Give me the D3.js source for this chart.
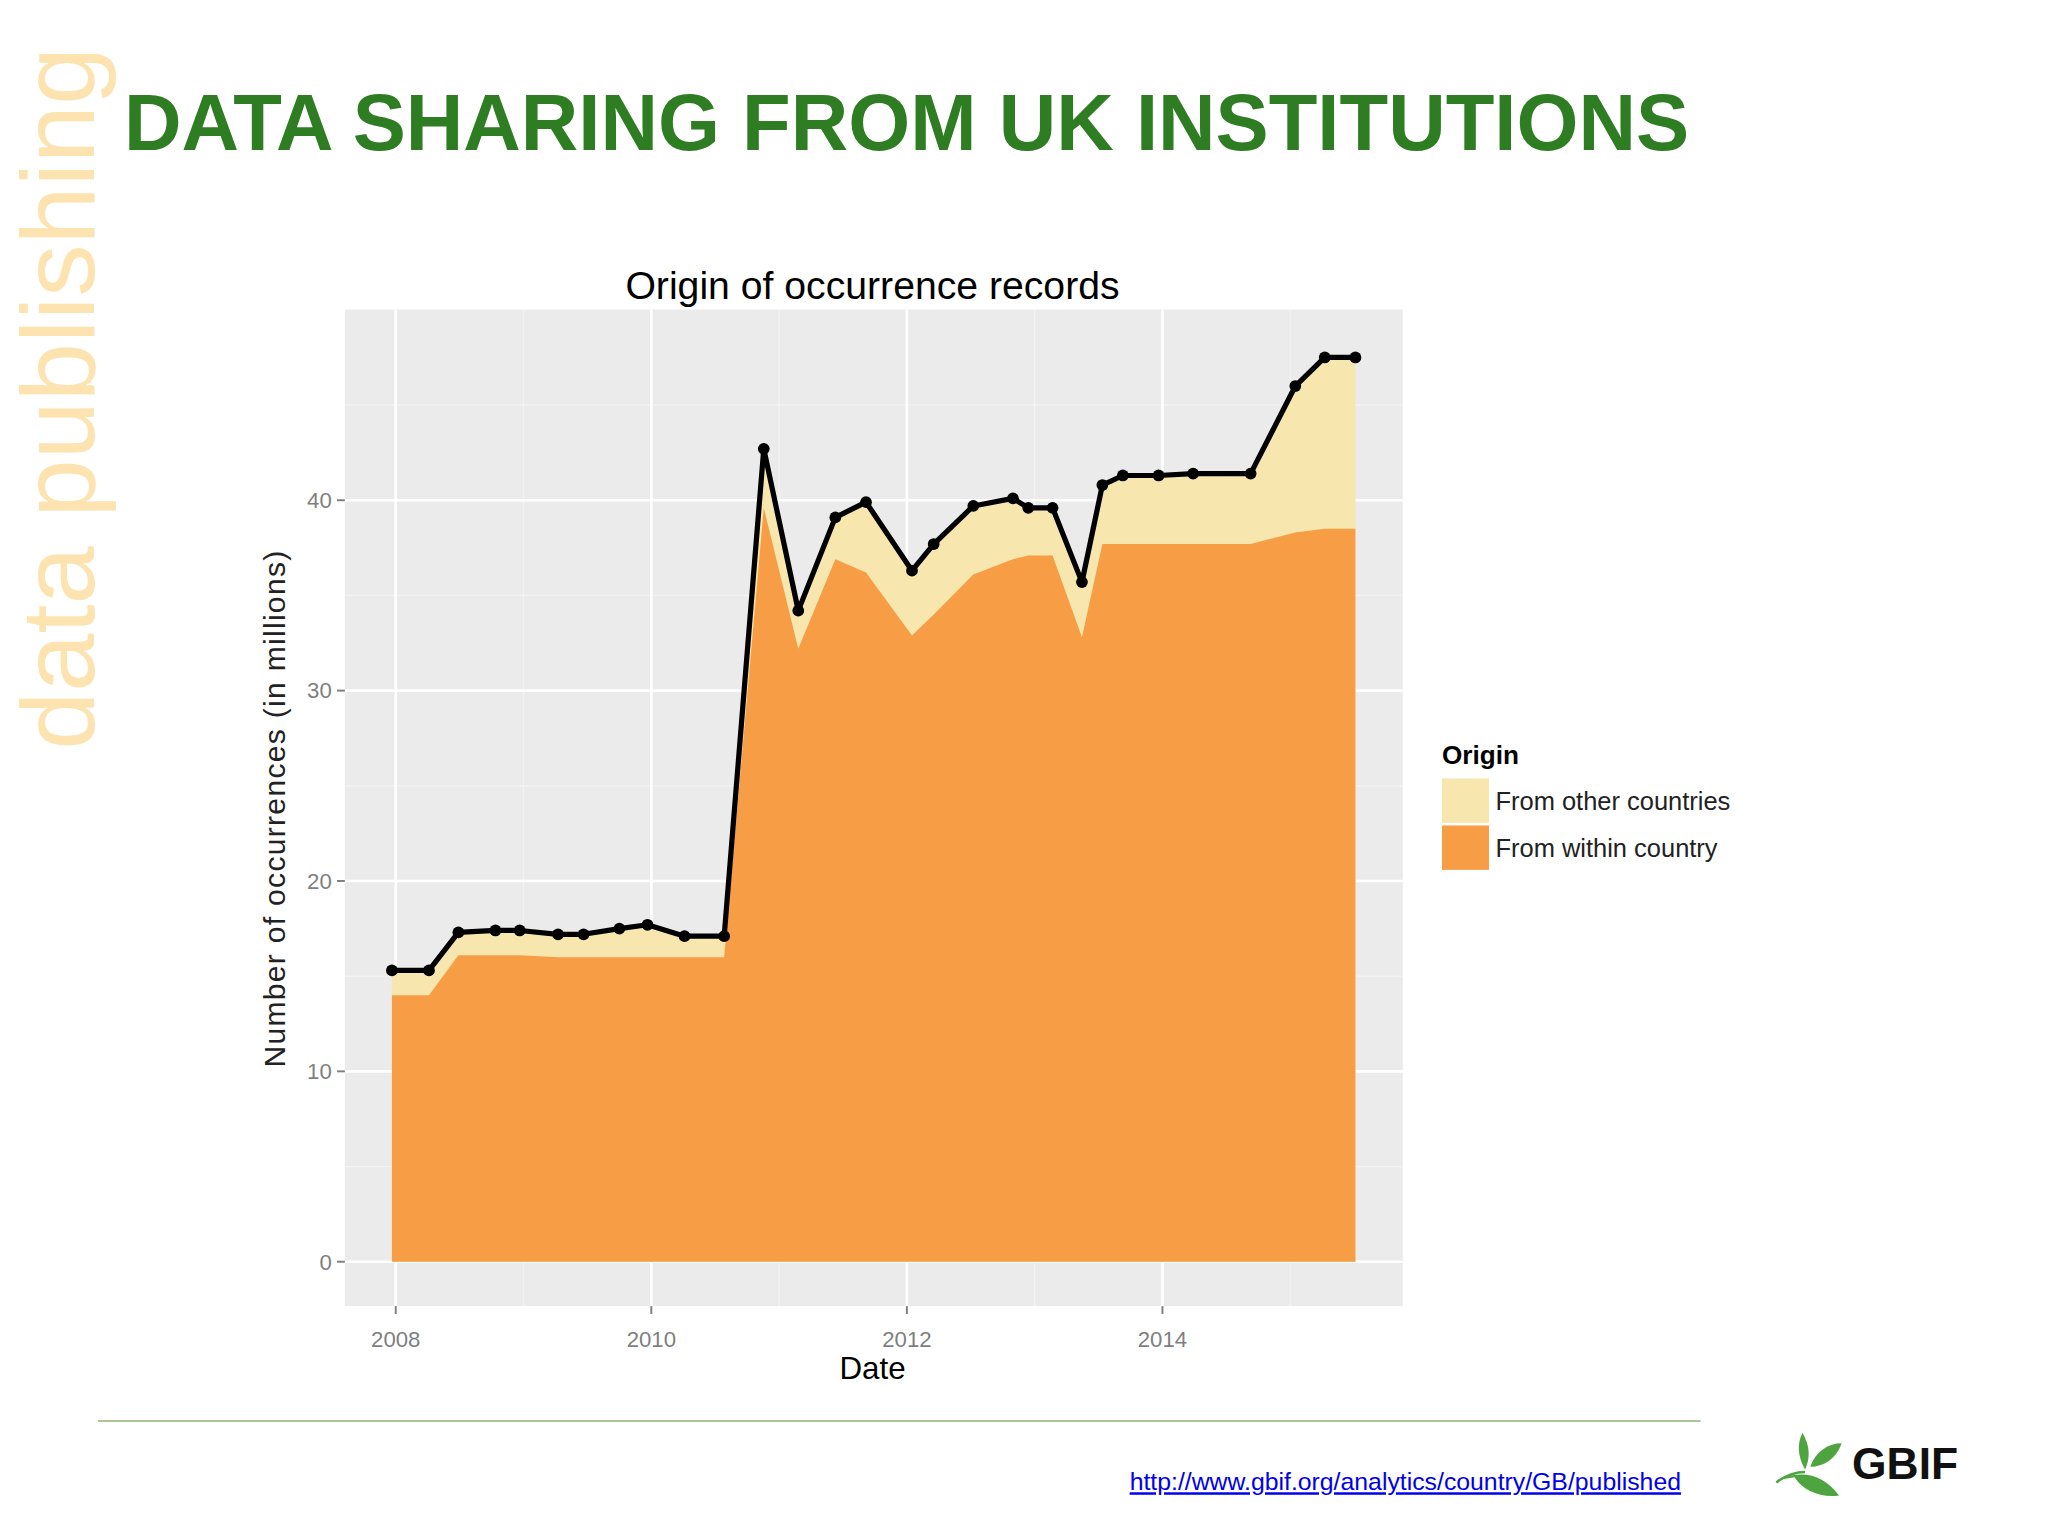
<!DOCTYPE html>
<html>
<head>
<meta charset="utf-8">
<style>
  body{margin:0;background:#fff;}
  text{font-family:"Liberation Sans",Arial,sans-serif;}
</style>
</head>
<body>
<svg width="2048" height="1536"></svg>
<script src="https://cdn.jsdelivr.net/npm/d3@7"></script>
<script>
// data (decimal years, millions of records)
var dates  = [2007.97,2008.26,2008.49,2008.78,2008.97,2009.27,2009.47,2009.75,2009.97,2010.26,2010.57,
              2010.88,2011.15,2011.44,2011.68,2012.04,2012.21,2012.52,2012.83,2012.95,2013.14,2013.37,
              2013.53,2013.69,2013.97,2014.24,2014.69,2015.04,2015.27,2015.51];
var total  = [15.3,15.3,17.3,17.4,17.4,17.2,17.2,17.5,17.7,17.1,17.1,
              42.7,34.2,39.1,39.9,36.3,37.7,39.7,40.1,39.6,39.6,35.7,
              40.8,41.3,41.3,41.4,41.4,46.0,47.5,47.5];
var within = [14.0,14.0,16.1,16.1,16.1,16.0,16.0,16.0,16.0,16.0,16.0,
              39.6,32.2,36.9,36.2,32.9,34.0,36.1,36.9,37.1,37.1,32.8,
              37.7,37.7,37.7,37.7,37.7,38.3,38.5,38.5];
var xTicks = [2008,2010,2012,2014];
var yTicks = [0,10,20,30,40];
var legendLabels = ["From other countries","From within country"];
var colOther = "#f7e6ad", colWithin = "#f69d45";

var svg = d3.select("svg");
var g = svg.append("g").attr("transform","scale(" + (2048/1568) + ")");

// side & headline
g.append("text").attr("transform","translate(72,305) rotate(-90)")
  .attr("text-anchor","middle").attr("font-size",80).attr("fill","#fde3b0").text("data publishing");
g.append("text").attr("x",95).attr("y",115).attr("font-size",61).attr("font-weight","bold")
  .attr("fill","#2e7d23").text("DATA SHARING FROM UK INSTITUTIONS");

var pl = 264, pr = 1074, pt = 237, pb = 1000;
var x = d3.scaleLinear().domain([2008,2014]).range([303,890]);
var y = d3.scaleLinear().domain([0,40]).range([966,383]);

g.append("rect").attr("x",pl).attr("y",pt).attr("width",pr-pl).attr("height",pb-pt).attr("fill","#ebebeb");
// minor grid
[5,15,25,35,45].forEach(function(v){
  g.append("line").attr("x1",pl).attr("x2",pr).attr("y1",y(v)).attr("y2",y(v)).attr("stroke","#f3f3f3").attr("stroke-width",1);
});
[2007,2009,2011,2013,2015].forEach(function(v){
  if(x(v)>pl && x(v)<pr) g.append("line").attr("y1",pt).attr("y2",pb).attr("x1",x(v)).attr("x2",x(v)).attr("stroke","#f3f3f3").attr("stroke-width",1);
});
yTicks.forEach(function(v){
  g.append("line").attr("x1",pl).attr("x2",pr).attr("y1",y(v)).attr("y2",y(v)).attr("stroke","#fff").attr("stroke-width",2);
});
xTicks.forEach(function(v){
  g.append("line").attr("y1",pt).attr("y2",pb).attr("x1",x(v)).attr("x2",x(v)).attr("stroke","#fff").attr("stroke-width",2);
});

var rows = dates.map(function(d,i){return {d:d,t:total[i],w:within[i]};});
g.append("path").datum(rows).attr("fill",colOther)
  .attr("d",d3.area().x(function(r){return x(r.d);}).y0(y(0)).y1(function(r){return y(r.t);}));
g.append("path").datum(rows).attr("fill",colWithin)
  .attr("d",d3.area().x(function(r){return x(r.d);}).y0(y(0)).y1(function(r){return y(r.w);}));
g.append("path").datum(rows).attr("fill","none").attr("stroke","#000").attr("stroke-width",4)
  .attr("stroke-linejoin","round")
  .attr("d",d3.line().x(function(r){return x(r.d);}).y(function(r){return y(r.t);}));
g.selectAll("circle.pt").data(rows).enter().append("circle")
  .attr("cx",function(r){return x(r.d);}).attr("cy",function(r){return y(r.t);}).attr("r",4.5).attr("fill","#000");

// axes
yTicks.forEach(function(v){
  g.append("line").attr("x1",pl-6).attr("x2",pl).attr("y1",y(v)).attr("y2",y(v)).attr("stroke","#7f7f7f").attr("stroke-width",1.5);
  g.append("text").attr("x",pl-10).attr("y",y(v)+6).attr("text-anchor","end").attr("font-size",17).attr("fill","#7f7f7f").text(v);
});
xTicks.forEach(function(v){
  g.append("line").attr("y1",pb).attr("y2",pb+6).attr("x1",x(v)).attr("x2",x(v)).attr("stroke","#7f7f7f").attr("stroke-width",1.5);
  g.append("text").attr("x",x(v)).attr("y",pb+31).attr("text-anchor","middle").attr("font-size",17).attr("fill","#7f7f7f").text(v);
});
g.append("text").attr("x",668).attr("y",1056).attr("text-anchor","middle").attr("font-size",24).text("Date");
g.append("text").attr("transform","translate(218,619) rotate(-90)").attr("text-anchor","middle")
  .attr("font-size",23).attr("letter-spacing",1).attr("fill","#222").text("Number of occurrences (in millions)");
g.append("text").attr("x",668).attr("y",229).attr("text-anchor","middle").attr("font-size",30).text("Origin of occurrence records");

// legend
g.append("text").attr("x",1104).attr("y",585).attr("font-size",20).attr("font-weight","bold").text("Origin");
[colOther,colWithin].forEach(function(c,i){
  g.append("rect").attr("x",1104).attr("y",596+i*36).attr("width",36).attr("height",34).attr("fill",c);
  g.append("text").attr("x",1145).attr("y",620+i*36).attr("font-size",19.5).attr("fill","#222").text(legendLabels[i]);
});

// footer
g.append("line").attr("x1",75).attr("x2",1302).attr("y1",1088).attr("y2",1088).attr("stroke","#a9c79a").attr("stroke-width",1.5);
g.append("text").attr("x",1287).attr("y",1141).attr("text-anchor","end").attr("font-size",19)
  .attr("font-family","'Liberation Sans Narrow','Liberation Sans',sans-serif")
  .attr("fill","#0000ee").attr("text-decoration","underline").text("http://www.gbif.org/analytics/country/GB/published");
// GBIF logo
var lg = g.append("g").attr("transform","translate(1360,1095)");
lg.append("path").attr("d","M2,38 C20,30 36,34 48,50 C34,52 20,46 14,36 Z").attr("fill","#4ea53f");
lg.append("path").attr("d","M22,30 C16,20 16,10 20,2 C26,12 26,22 22,30 Z").attr("fill","#4ea53f");
lg.append("path").attr("d","M26,28 C30,16 40,10 50,10 C46,22 36,28 26,28 Z").attr("fill","#4ea53f");
lg.append("path").attr("d","M0,40 C8,34 14,32 22,32").attr("stroke","#4ea53f").attr("stroke-width",2).attr("fill","none");
lg.append("text").attr("x",58).attr("y",37).attr("font-size",34).attr("font-weight","bold")
  .attr("font-family","'DejaVu Sans Condensed','Liberation Sans Narrow',sans-serif").attr("fill","#111").text("GBIF");
</script>
</body>
</html>
